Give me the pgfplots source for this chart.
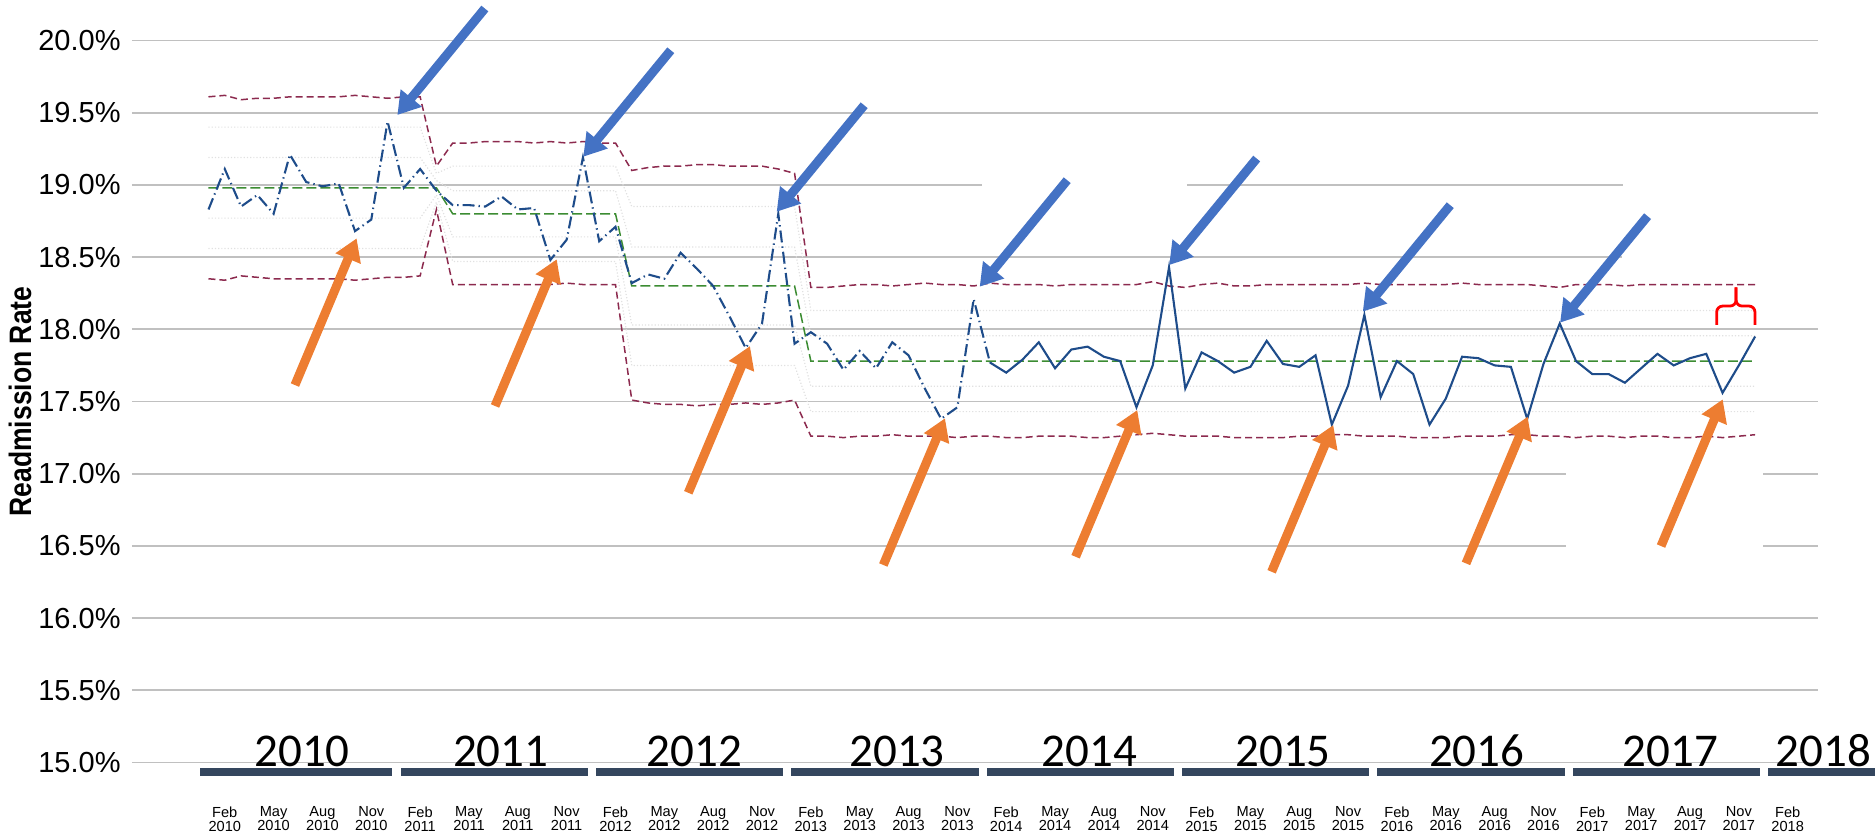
\documentclass[border=0pt]{standalone}
\usepackage{graphicx}
\usepackage{pgfplots}
\pgfplotsset{compat=1.18}
\usepackage{pgfplotstable}
\usepackage{fontspec}
\setmainfont{Liberation Sans}
\newfontfamily\yearfont{Carlito}
\usetikzlibrary{arrows.meta}

\definecolor{datac}{RGB}{30,76,138}
\definecolor{limc}{RGB}{140,42,78}
\definecolor{clc}{RGB}{60,140,50}
\definecolor{gridc}{RGB}{192,192,192}
\definecolor{sigc}{RGB}{225,225,225}
\definecolor{barc}{RGB}{52,70,94}
\definecolor{bluea}{RGB}{68,114,196}
\definecolor{orangea}{RGB}{237,125,49}
\definecolor{redc}{RGB}{255,0,0}

\tikzset{
  yr/.style={anchor=base, inner sep=0pt, font=\yearfont\fontsize{23.5}{23.5}\selectfont},
  barr/.style={line width=4.5pt, -{Triangle[width=13pt,length=11pt]}},
  gl/.style={gridc, line width=0.85pt},
}

\pgfplotstableread{
m v ucl lcl
0 18.83 19.61 18.35
1 19.11 19.62 18.34
2 18.85 19.59 18.37
3 18.93 19.60 18.36
4 18.80 19.60 18.35
5 19.21 19.61 18.35
6 19.02 19.61 18.35
7 18.99 19.61 18.35
8 19.01 19.61 18.35
9 18.68 19.62 18.34
10 18.76 19.61 18.35
11 19.44 19.60 18.36
12 18.98 19.61 18.36
13 19.11 19.61 18.37
14 18.96 19.13 18.83
15 18.86 19.29 18.31
16 18.86 19.29 18.31
17 18.85 19.30 18.31
18 18.92 19.30 18.31
19 18.83 19.30 18.31
20 18.84 19.29 18.31
21 18.48 19.30 18.31
22 18.62 19.29 18.32
23 19.19 19.30 18.31
24 18.61 19.29 18.31
25 18.71 19.29 18.31
26 18.32 19.10 17.51
27 18.38 19.12 17.49
28 18.35 19.13 17.48
29 18.53 19.13 17.48
30 18.42 19.14 17.47
31 18.30 19.14 17.48
32 18.09 19.13 17.48
33 17.87 19.13 17.49
34 18.04 19.13 17.48
35 18.80 19.11 17.49
36 17.90 19.08 17.51
37 17.98 18.29 17.26
38 17.90 18.29 17.26
39 17.72 18.30 17.25
40 17.85 18.31 17.26
41 17.73 18.31 17.26
42 17.91 18.30 17.27
43 17.82 18.31 17.26
44 17.59 18.32 17.26
45 17.38 18.31 17.26
46 17.46 18.31 17.25
47 18.21 18.30 17.26
48 17.77 18.32 17.26
49 17.70 18.31 17.25
50 17.79 18.31 17.25
51 17.91 18.31 17.26
52 17.73 18.30 17.26
53 17.86 18.31 17.26
54 17.88 18.31 17.25
55 17.81 18.31 17.25
56 17.78 18.31 17.26
57 17.46 18.31 17.27
58 17.75 18.33 17.28
59 18.43 18.30 17.27
60 17.59 18.29 17.26
61 17.84 18.31 17.26
62 17.78 18.32 17.26
63 17.70 18.30 17.25
64 17.74 18.30 17.25
65 17.92 18.31 17.25
66 17.76 18.31 17.25
67 17.74 18.31 17.26
68 17.82 18.31 17.26
69 17.34 18.31 17.27
70 17.61 18.31 17.27
71 18.10 18.32 17.26
72 17.53 18.31 17.26
73 17.78 18.31 17.26
74 17.69 18.31 17.25
75 17.34 18.31 17.25
76 17.52 18.31 17.25
77 17.81 18.32 17.26
78 17.80 18.31 17.26
79 17.75 18.31 17.26
80 17.74 18.31 17.27
81 17.38 18.31 17.27
82 17.76 18.30 17.26
83 18.04 18.29 17.26
84 17.78 18.31 17.25
85 17.69 18.31 17.26
86 17.69 18.31 17.26
87 17.63 18.30 17.25
88 17.73 18.31 17.26
89 17.83 18.31 17.26
90 17.75 18.31 17.25
91 17.80 18.31 17.25
92 17.83 18.31 17.26
93 17.56 18.31 17.25
94 17.75 18.31 17.26
95 17.95 18.31 17.27
}\rates

\begin{document}
\begin{tikzpicture}
\begin{axis}[
  x=8.14pt, y=72.2pt,
  xmin=-4.7, xmax=98.86, ymin=15, ymax=20,
  clip=false,
  axis line style={draw=none},
  major tick length=0pt,
  ytick={15,15.5,16,16.5,17,17.5,18,18.5,19,19.5,20},
  /pgf/number format/assume math mode=true,
  yticklabel={\pgfmathprintnumber[fixed,fixed zerofill,precision=1]{\tick}\%},
  yticklabel style={anchor=east, inner sep=0pt, xshift=-5.5pt, font=\fontsize{14.5}{14.5}\selectfont},
  xtick={1,4,...,97},
  xticklabels={{Feb\\2010},{May\\2010},{Aug\\2010},{Nov\\2010},
    {Feb\\2011},{May\\2011},{Aug\\2011},{Nov\\2011},
    {Feb\\2012},{May\\2012},{Aug\\2012},{Nov\\2012},
    {Feb\\2013},{May\\2013},{Aug\\2013},{Nov\\2013},
    {Feb\\2014},{May\\2014},{Aug\\2014},{Nov\\2014},
    {Feb\\2015},{May\\2015},{Aug\\2015},{Nov\\2015},
    {Feb\\2016},{May\\2016},{Aug\\2016},{Nov\\2016},
    {Feb\\2017},{May\\2017},{Aug\\2017},{Nov\\2017},
    {Feb\\2018}},
  xticklabel style={anchor=north, inner sep=0pt, yshift=-22pt, align=center,
    font=\fontsize{7.3}{7}\selectfont},
]
% gridlines (with the white gaps of the original)
\draw[gl] (axis cs:-4.7,20) -- (axis cs:98.86,20);
\draw[gl] (axis cs:-4.7,19.5) -- (axis cs:98.86,19.5);
\draw[gl] (axis cs:-4.7,19) -- (axis cs:47.5,19);
\draw[gl] (axis cs:60.1,19) -- (axis cs:86.9,19);
\draw[gl] (axis cs:-4.7,18.5) -- (axis cs:86.8,18.5);
\draw[gl] (axis cs:-4.7,18) -- (axis cs:98.86,18);
\draw[gl] (axis cs:-4.7,17.5) -- (axis cs:98.86,17.5);
\draw[gl] (axis cs:-4.7,17) -- (axis cs:83.4,17);
\draw[gl] (axis cs:95.5,17) -- (axis cs:98.86,17);
\draw[gl] (axis cs:-4.7,16.5) -- (axis cs:83.4,16.5);
\draw[gl] (axis cs:95.5,16.5) -- (axis cs:98.86,16.5);
\draw[gl] (axis cs:-4.7,16) -- (axis cs:98.86,16);
\draw[gl] (axis cs:-4.7,15.5) -- (axis cs:98.86,15.5);
\draw[gl] (axis cs:-4.7,15) -- (axis cs:98.86,15);

% year bars
\fill[barc] (axis cs:-0.5,14.907) rectangle (axis cs:11.3,14.964);
\fill[barc] (axis cs:11.8,14.907) rectangle (axis cs:23.3,14.964);
\fill[barc] (axis cs:23.8,14.907) rectangle (axis cs:35.3,14.964);
\fill[barc] (axis cs:35.8,14.907) rectangle (axis cs:47.3,14.964);
\fill[barc] (axis cs:47.8,14.907) rectangle (axis cs:59.3,14.964);
\fill[barc] (axis cs:59.8,14.907) rectangle (axis cs:71.3,14.964);
\fill[barc] (axis cs:71.8,14.907) rectangle (axis cs:83.3,14.964);
\fill[barc] (axis cs:83.8,14.907) rectangle (axis cs:95.3,14.964);
\fill[barc] (axis cs:95.8,14.907) rectangle (axis cs:102.6,14.964);
\node[yr] at (axis cs:5.75,14.971) {2010};
\node[yr] at (axis cs:17.95,14.971) {2011};
\node[yr] at (axis cs:29.85,14.971) {2012};
\node[yr] at (axis cs:42.3,14.971) {2013};
\node[yr] at (axis cs:54.1,14.971) {2014};
\node[yr] at (axis cs:66.0,14.971) {2015};
\node[yr] at (axis cs:77.9,14.971) {2016};
\node[yr] at (axis cs:89.8,14.971) {2017};
\node[yr] at (axis cs:99.2,14.971) {2018};

% sigma lines
\addplot[sigc, line width=0.6pt, densely dotted] coordinates {(0,19.40)(13,19.40)(14,19.08)(15,19.13)(25,19.13)(26,18.85)(36,18.85)(37,18.13)(95,18.13)};
\addplot[sigc, line width=0.6pt, densely dotted] coordinates {(0,19.19)(13,19.19)(14,19.03)(15,18.96)(25,18.96)(26,18.57)(36,18.57)(37,17.955)(95,17.955)};
\addplot[sigc, line width=0.6pt, densely dotted] coordinates {(0,18.77)(13,18.77)(14,18.93)(15,18.64)(25,18.64)(26,18.03)(36,18.03)(37,17.605)(95,17.605)};
\addplot[sigc, line width=0.6pt, densely dotted] coordinates {(0,18.56)(13,18.56)(14,18.88)(15,18.47)(25,18.47)(26,17.75)(36,17.75)(37,17.43)(95,17.43)};

% control limits
\addplot[limc, line width=0.75pt, dash pattern=on 3.5pt off 2pt] table[x=m, y=ucl]{\rates};
\addplot[limc, line width=0.75pt, dash pattern=on 3.5pt off 2pt] table[x=m, y=lcl]{\rates};
% centre line
\addplot[clc, line width=0.75pt, dash pattern=on 5pt off 2pt] coordinates {(0,18.98)(14,18.98)(15,18.80)(25,18.80)(26,18.30)(36,18.30)(37,17.78)(95,17.78)};

% readmission rate
\addplot[datac, line width=1.05pt, dash pattern=on 6pt off 2pt on 0.7pt off 2pt, restrict x to domain=0:48] table[x=m, y=v]{\rates};
\addplot[datac, line width=1.05pt, restrict x to domain=48:95] table[x=m, y=v]{\rates};

% blue arrows (tail = tip + (5.375, 0.7375))
\draw[bluea, barr] (axis cs:16.975,20.2215) -- (axis cs:11.60,19.484);
\draw[bluea, barr] (axis cs:28.395,19.9325) -- (axis cs:23.02,19.195);
\draw[bluea, barr] (axis cs:40.275,19.5515) -- (axis cs:34.90,18.814);
\draw[bluea, barr] (axis cs:52.745,19.0325) -- (axis cs:47.37,18.295);
\draw[bluea, barr] (axis cs:64.385,19.1825) -- (axis cs:59.01,18.445);
\draw[bluea, barr] (axis cs:76.275,18.8595) -- (axis cs:70.90,18.122);
\draw[bluea, barr] (axis cs:88.395,18.7835) -- (axis cs:83.02,18.046);
% orange arrows (tail = tip - (3.79, 1.016))
\draw[orangea, barr] (axis cs:5.31,17.614) -- (axis cs:9.10,18.630);
\draw[orangea, barr] (axis cs:17.60,17.469) -- (axis cs:21.39,18.485);
\draw[orangea, barr] (axis cs:29.47,16.868) -- (axis cs:33.26,17.884);
\draw[orangea, barr] (axis cs:41.45,16.368) -- (axis cs:45.24,17.384);
\draw[orangea, barr] (axis cs:53.26,16.425) -- (axis cs:57.05,17.441);
\draw[orangea, barr] (axis cs:65.30,16.321) -- (axis cs:69.09,17.337);
\draw[orangea, barr] (axis cs:77.24,16.379) -- (axis cs:81.03,17.395);
\draw[orangea, barr] (axis cs:89.22,16.499) -- (axis cs:93.01,17.515);
% red bracket
\draw[redc, line width=1.4pt, rounded corners=3pt] (axis cs:92.64,18.03) -- (axis cs:92.64,18.161) -- (axis cs:93.83,18.161) -- (axis cs:93.83,18.29);
\draw[redc, line width=1.4pt, rounded corners=3pt] (axis cs:94.99,18.03) -- (axis cs:94.99,18.161) -- (axis cs:93.83,18.161) -- (axis cs:93.83,18.29);

% y label
\node[rotate=90, inner sep=0pt, font=\bfseries\fontsize{15.5}{15.5}\selectfont] at (axis cs:-11.58,17.50) {\scalebox{0.855}[1]{Readmission Rate}};

\coordinate (BL) at (axis cs:-12.807,14.5187);
\coordinate (TR) at (axis cs:102.365,20.2805);
\end{axis}
\pgfresetboundingbox
\useasboundingbox (BL) rectangle (TR);
\end{tikzpicture}
\end{document}
